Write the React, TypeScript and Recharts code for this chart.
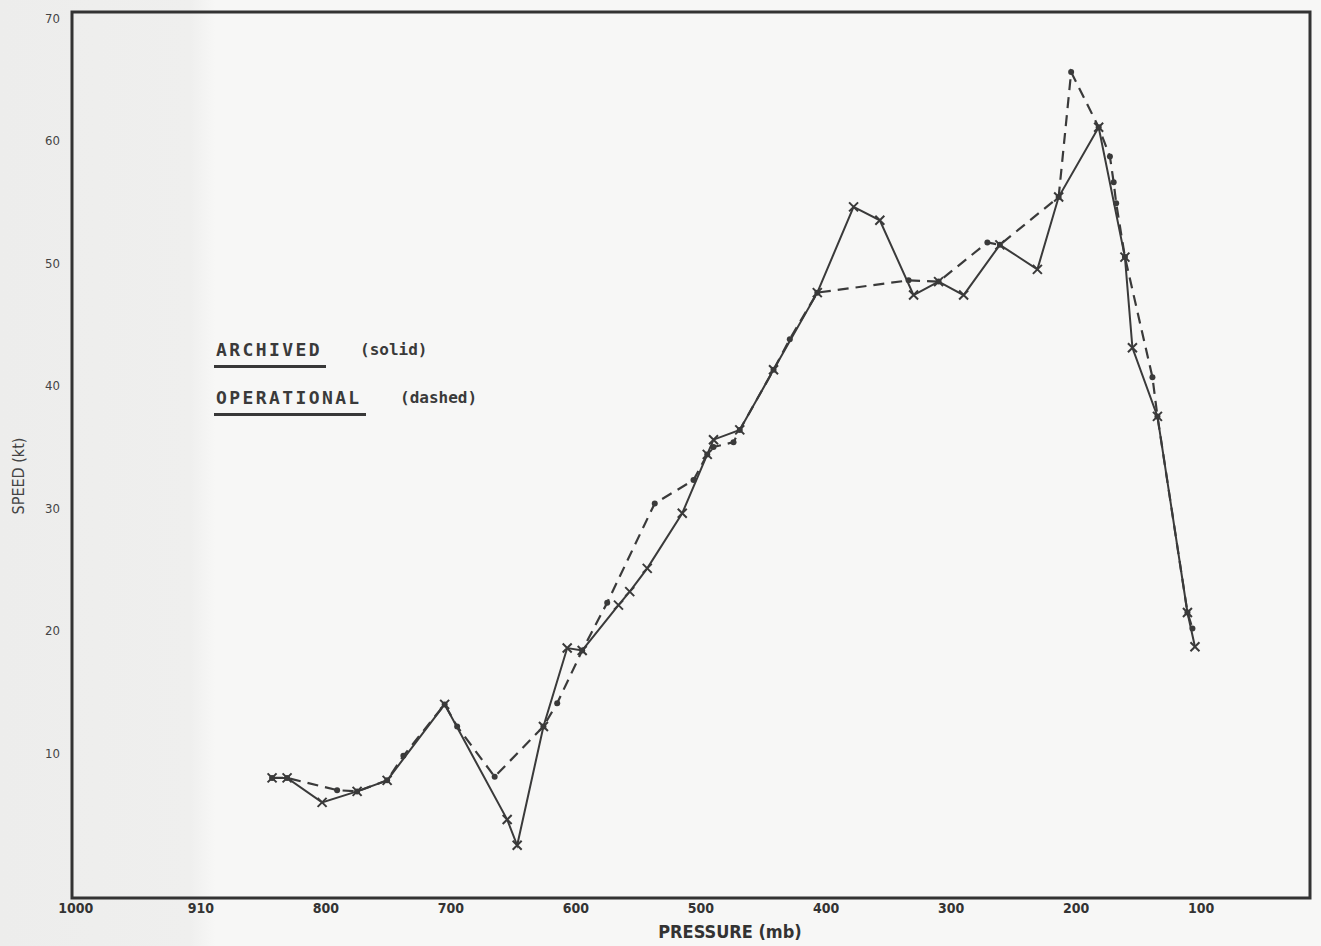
import { LineChart, Line, XAxis, YAxis, ReferenceArea } from "recharts";

// pressure (mb) / speed (kt)
const archivedPressure = [843, 831, 803, 775, 751, 705, 655, 647, 626, 607, 595, 566, 557, 543, 515, 495, 490, 469, 442, 407, 378, 357, 330, 310, 290, 261, 231, 214, 182, 161, 155, 135, 111, 105];
const archivedSpeed = [8.0, 8.0, 6.0, 6.9, 7.8, 14.0, 4.6, 2.5, 12.2, 18.6, 18.4, 22.1, 23.2, 25.1, 29.6, 34.4, 35.6, 36.4, 41.3, 47.6, 54.6, 53.5, 47.4, 48.5, 47.4, 51.5, 49.5, 55.4, 61.1, 50.5, 43.1, 37.5, 21.5, 18.7];

const operationalPressure = [843, 831, 791, 775, 751, 738, 705, 695, 665, 626, 615, 595, 575, 537, 506, 495, 490, 474, 469, 442, 429, 407, 334, 310, 271, 261, 214, 204, 182, 173, 170, 168, 161, 139, 135, 111, 107];
const operationalSpeed = [8.0, 8.0, 7.0, 6.9, 7.8, 9.8, 14.0, 12.2, 8.1, 12.2, 14.1, 18.4, 22.3, 30.4, 32.3, 34.4, 35.0, 35.4, 36.4, 41.3, 43.8, 47.6, 48.6, 48.5, 51.7, 51.5, 55.4, 65.6, 61.1, 58.7, 56.6, 54.9, 50.5, 40.7, 37.5, 21.5, 20.2];

const xTicks = [1000, 900, 800, 700, 600, 500, 400, 300, 200, 100];
const xTickLabels = ["1000", "910", "800", "700", "600", "500", "400", "300", "200", "100"];
const yTicks = [10, 20, 30, 40, 50, 60, 70];

const INK = "#3a3a3a";

const archivedData = archivedPressure.map((p, i) => ({ pressure: p, speed: archivedSpeed[i] }));
const operationalData = operationalPressure.map((p, i) => ({ pressure: p, speed: operationalSpeed[i] }));

const CrossDot = (props: any) => {
  const { cx, cy, index } = props;
  if (cx == null || cy == null) return <g key={`a-${index}`} />;
  const s = 4.5;
  return (
    <path
      key={`a-${index}`}
      d={`M${cx - s},${cy - s}L${cx + s},${cy + s}M${cx - s},${cy + s}L${cx + s},${cy - s}`}
      stroke={INK}
      strokeWidth={2}
      fill="none"
    />
  );
};

const SmallDot = (props: any) => {
  const { cx, cy, index } = props;
  if (cx == null || cy == null) return <g key={`o-${index}`} />;
  return <circle key={`o-${index}`} cx={cx} cy={cy} r={3} fill={INK} />;
};

const condensed = '"DejaVu Sans Condensed", "Liberation Sans Narrow", "DejaVu Sans", sans-serif';
const lettering = '"DejaVu Sans Mono", "Liberation Mono", monospace';

export default function App() {
  return (
    <div
      style={{
        position: "absolute",
        left: 0,
        top: 0,
        width: 1321,
        height: 946,
        background: "linear-gradient(to right, #ededec 0px, #efefee 190px, #f7f7f6 215px, #f7f7f6 100%)",
        overflow: "hidden",
      }}
    >
      <LineChart width={1321} height={946} margin={{ top: 12, right: 11, bottom: 12, left: 12 }}>
        <XAxis
          type="number"
          dataKey="pressure"
          domain={[13, 1003]}
          reversed
          allowDataOverflow
          ticks={xTicks}
          interval={0}
          tickFormatter={(v: number) => xTickLabels[xTicks.indexOf(v)] ?? String(v)}
          axisLine={false}
          tickLine={false}
          tickSize={0}
          tickMargin={5}
          height={36}
          tick={{ fill: "#333", fontSize: 14, fontFamily: condensed, fontWeight: 700 }}
        />
        <YAxis
          type="number"
          dataKey="speed"
          domain={[-1.8, 70.5]}
          allowDataOverflow
          ticks={yTicks}
          interval={0}
          axisLine={false}
          tickLine={false}
          tickSize={0}
          tickMargin={12}
          width={60}
          tick={{ fill: "#444", fontSize: 13, fontFamily: condensed }}
        />
        <ReferenceArea
          x1={13}
          x2={1003}
          y1={-1.8}
          y2={70.5}
          fill="none"
          stroke="#333"
          strokeWidth={3}
          ifOverflow="visible"
        />
        <Line
          data={operationalData}
          dataKey="speed"
          type="linear"
          stroke={INK}
          strokeWidth={2.2}
          strokeDasharray="11 7"
          dot={SmallDot}
          activeDot={false}
          isAnimationActive={false}
        />
        <Line
          data={archivedData}
          dataKey="speed"
          type="linear"
          stroke={INK}
          strokeWidth={2}
          dot={CrossDot}
          activeDot={false}
          isAnimationActive={false}
        />
      </LineChart>

      {/* axis titles */}
      <div
        style={{
          position: "absolute",
          left: 640,
          top: 923,
          width: 180,
          textAlign: "center",
          fontFamily: condensed,
          fontWeight: 700,
          fontSize: 18,
          lineHeight: 1,
          color: "#333",
        }}
      >
        PRESSURE (mb)
      </div>
      <div
        style={{
          position: "absolute",
          left: 18,
          top: 476,
          transform: "translate(-50%, -50%) rotate(-90deg)",
          whiteSpace: "nowrap",
          fontFamily: condensed,
          fontSize: 16,
          color: "#444",
        }}
      >
        SPEED (kt)
      </div>

      {/* legend notes */}
      <div style={{ position: "absolute", left: 216, top: 339, fontFamily: lettering, fontSize: 18, fontWeight: 700, letterSpacing: 2.4, color: "#3a3a3a" }}>
        ARCHIVED
      </div>
      <div style={{ position: "absolute", left: 214, top: 365, width: 112, height: 3, background: "#383838" }} />
      <div style={{ position: "absolute", left: 360, top: 340, fontFamily: lettering, fontSize: 16, fontWeight: 700, color: "#3a3a3a" }}>
        (solid)
      </div>

      <div style={{ position: "absolute", left: 216, top: 387, fontFamily: lettering, fontSize: 18, fontWeight: 700, letterSpacing: 2.4, color: "#3a3a3a" }}>
        OPERATIONAL
      </div>
      <div style={{ position: "absolute", left: 214, top: 413, width: 152, height: 3, background: "#383838" }} />
      <div style={{ position: "absolute", left: 400, top: 388, fontFamily: lettering, fontSize: 16, fontWeight: 700, color: "#3a3a3a" }}>
        (dashed)
      </div>
    </div>
  );
}
